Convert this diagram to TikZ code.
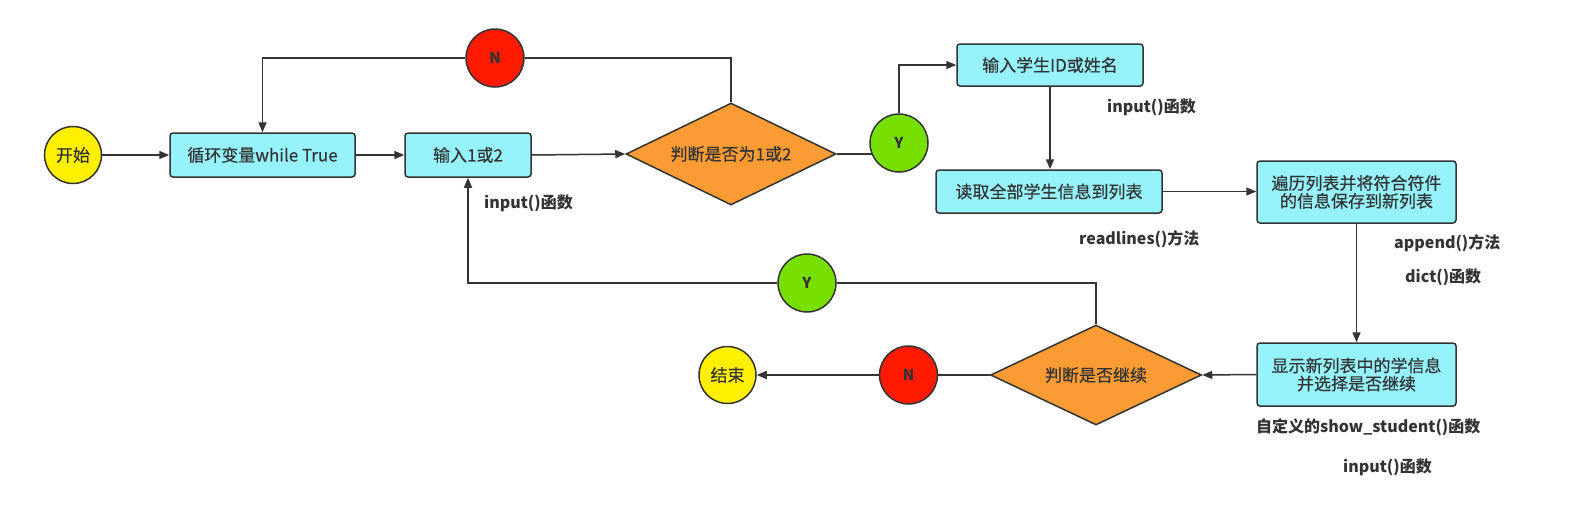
\documentclass[tikz,border=0pt]{standalone}
\usepackage{fontspec}
\setmainfont{Noto Sans CJK SC}
\newfontfamily\medfont{Noto Sans CJK SC}[FakeBold=0.4]
\usetikzlibrary{shapes.geometric,arrows.meta,backgrounds}
\definecolor{boxcyan}{HTML}{96F3FB}
\definecolor{dorange}{HTML}{FA9C33}
\definecolor{cgreen}{HTML}{78E000}
\definecolor{cred}{HTML}{FF1A00}
\definecolor{cyellow}{HTML}{FFF000}
\definecolor{edge}{HTML}{333333}
\tikzset{
  base/.style={draw=edge, line width=1.5pt, text=edge, font=\medfont\fontsize{17}{21}\selectfont},
  procbox/.style={base, fill=boxcyan, rectangle, rounded corners=3pt, align=center, inner sep=0pt},
  decide/.style={base, fill=dorange, diamond, aspect=2, inner sep=0pt, minimum width=210pt, minimum height=102pt},
  yes/.style={base, fill=cgreen, circle, minimum size=58pt, inner sep=0pt, font=\fontsize{15}{18}\selectfont\bfseries},
  no/.style={base, fill=cred, circle, minimum size=58pt, inner sep=0pt, font=\fontsize{15}{18}\selectfont\bfseries},
  term/.style={base, fill=cyellow, circle, minimum size=57pt, inner sep=0pt},
  lbl/.style={text=edge, anchor=west, inner sep=0pt, font=\fontsize{16}{19}\selectfont\bfseries},
  conn/.style={draw=edge, line width=1.5pt},
  arr/.style={conn, -{Triangle[length=10pt,width=8pt]}}
}
\begin{document}
\begin{tikzpicture}[x=1pt,y=-1pt]
\useasboundingbox (0,0) rectangle (1575,507);
% nodes
\node[term] (start) at (73,155) {开始};
\node[procbox, minimum width=185pt, minimum height=44pt] (b1) at (262.5,155) {循环变量while True};
\node[procbox, minimum width=126pt, minimum height=44pt] (b2) at (468,155) {输入1或2};
\node[decide] (d1) at (731,154) {判断是否为1或2};
\node[no] (N1) at (495,58) {N};
\node[yes] (Y1) at (899,143) {Y};
\node[procbox, minimum width=186pt, minimum height=42pt] (b3) at (1050,65) {输入学生ID或姓名};
\node[procbox, minimum width=226pt, minimum height=43pt] (b4) at (1049,191.5) {读取全部学生信息到列表};
\node[procbox, minimum width=199pt, minimum height=62pt] (b5) at (1356.5,192) {遍历列表并将符合符件\\[-3pt]的信息保存到新列表};
\node[procbox, minimum width=199pt, minimum height=63pt] (b6) at (1356.5,374.5) {显示新列表中的学信息\\[-3pt]并选择是否继续};
\node[decide, minimum width=211pt, minimum height=100pt] (d2) at (1096,375) {判断是否继续};
\node[yes] (Y2) at (807,283) {Y};
\node[no] (N2) at (908.5,375) {N};
\node[term] (end) at (727.5,375) {结束};
% labels
\node[lbl] (l1) at (484,203) {input()函数};
\node[lbl] (l2) at (1107,107) {input()函数};
\node[lbl] (l3) at (1079,239) {readlines()方法};
\node[lbl] (l4) at (1394,243) {append()方法};
\node[lbl] (l5) at (1405,277) {dict()函数};
\node[lbl] (l6) at (1256,427) {自定义的show\_student()函数};
\node[lbl] (l7) at (1343,467) {input()函数};
% connectors
\begin{scope}[on background layer]
\draw[arr] (start) -- (b1);
\draw[arr] (b1) -- (b2);
\draw[arr] (b2.east) -- (d1.west);
\draw[conn] (d1.north) |- (N1);
\draw[arr] (N1) -| (b1.north);
\draw[conn] (d1.east) -- (Y1.center |- d1.east);
\draw[arr] (Y1.north) |- (b3.west);
\draw[arr] (b3.south) -- (b3.south |- b4.north);
\draw[arr] (b4.east) -- (b4.east -| b5.west);
\draw[arr] (b5.south) -- (b6.north);
\draw[arr] (b6.west) -- (d2.east);
\draw[conn] (d2.north) |- (Y2);
\draw[arr] (Y2) -| (b2.south);
\draw[conn] (d2.west) -- (N2);
\draw[arr] (N2) -- (end);
\end{scope}
\end{tikzpicture}
\end{document}
